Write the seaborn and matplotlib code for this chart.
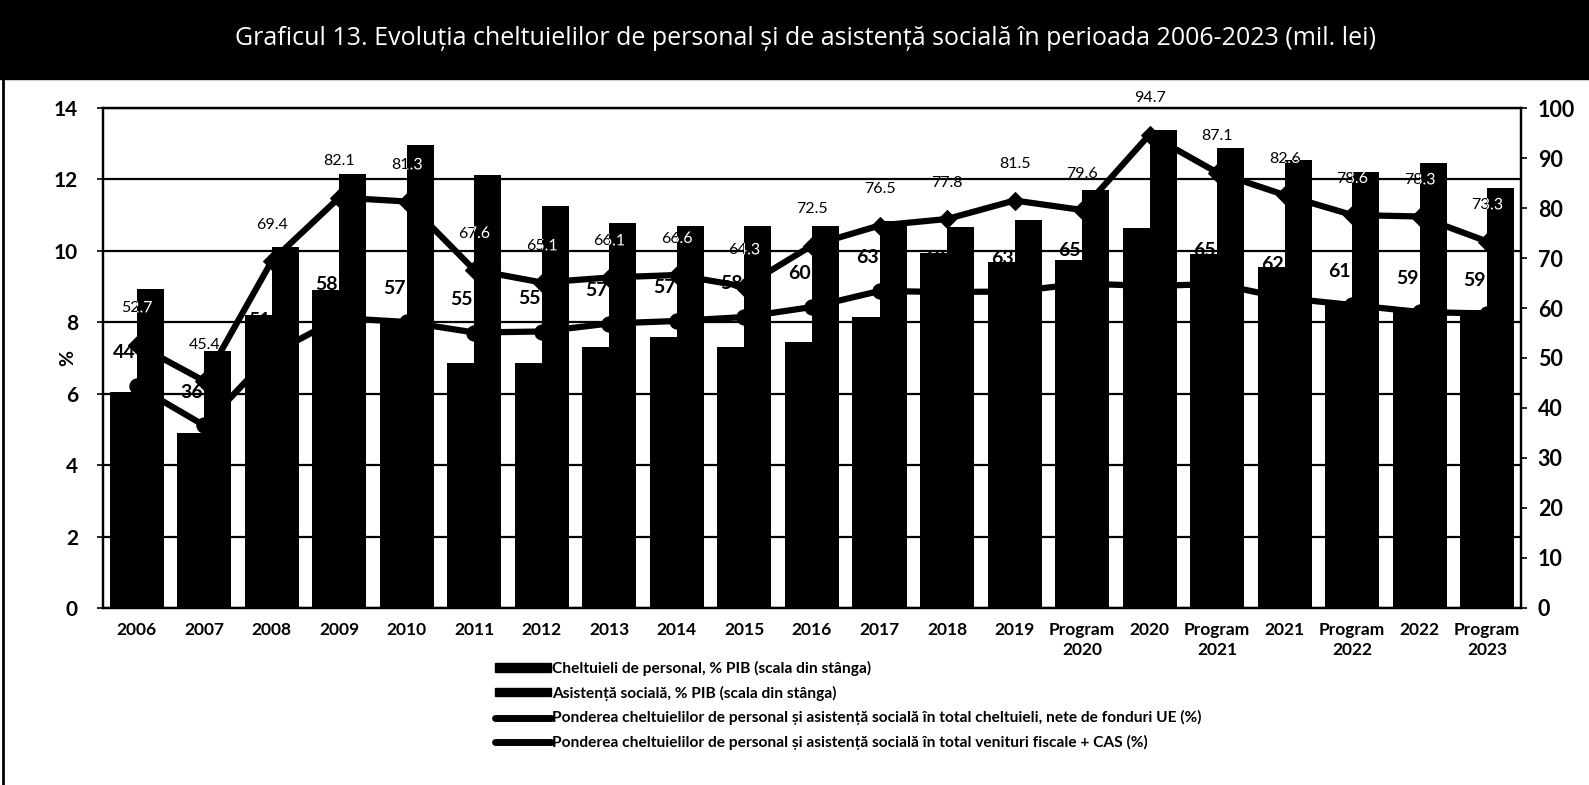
import numpy as np
import pandas as pd
import matplotlib
matplotlib.use("Agg")
import matplotlib.pyplot as plt
import matplotlib.patheffects as pe
import seaborn as sns
from matplotlib.path import Path
from matplotlib.transforms import Affine2D
from matplotlib.lines import Line2D
from matplotlib.patches import Rectangle

# ---------------- data ----------------
categories = ["2006", "2007", "2008", "2009", "2010", "2011", "2012", "2013", "2014",
              "2015", "2016", "2017", "2018", "2019", "Program\n2020", "2020",
              "Program\n2021", "2021", "Program\n2022", "2022", "Program\n2023"]

cheltuieli_personal_pib = [6.05, 4.9, 8.2, 8.9, 8.0, 6.85, 6.85, 7.3, 7.6, 7.3, 7.45,
                           8.15, 9.95, 9.7, 9.75, 10.65, 9.9, 9.55, 8.6, 8.4, 8.35]
asistenta_sociala_pib = [8.93, 7.2, 10.1, 12.15, 12.97, 12.13, 11.26, 10.78, 10.7, 10.7, 10.7,
                         10.85, 10.67, 10.87, 11.7, 13.39, 12.88, 12.55, 12.2, 12.46, 11.76]
pondere_total_cheltuieli = [44.4, 36.5, 50.8, 58.0, 57.2, 55.1, 55.3, 56.9, 57.4, 58.2, 60.2,
                            63.4, 63.2, 63.3, 64.9, 64.4, 64.8, 62.0, 60.6, 59.2, 58.9]
pondere_venituri_fiscale = [52.7, 45.4, 69.4, 82.1, 81.3, 67.6, 65.1, 66.1, 66.6, 64.3, 72.5,
                            76.5, 77.8, 81.5, 79.6, 94.7, 87.1, 82.6, 78.6, 78.3, 73.3]

title = ("Graficul 13. Evoluția cheltuielilor de personal și de asistență socială "
         "în perioada 2006-2023 (mil. lei)")
legend_labels = [
    "Cheltuieli de personal, % PIB (scala din stânga)",
    "Asistență socială, % PIB (scala din stânga)",
    "Ponderea cheltuielilor de personal și asistență socială în total cheltuieli, nete de fonduri UE (%)",
    "Ponderea cheltuielilor de personal și asistență socială în total venituri fiscale + CAS (%)",
]

# ---------------- style ----------------
sns.set_theme(style="white")
plt.rcParams['font.family'] = ['Lato', 'DejaVu Sans']
plt.rcParams['text.color'] = 'black'

n = len(categories)
fig = plt.figure(figsize=(15.89, 7.85), dpi=100)
ax = fig.add_axes([0.0648, 0.2255, 0.8924, 0.6369])

df = pd.DataFrame({
    "cat": categories * 2,
    "val": cheltuieli_personal_pib + asistenta_sociala_pib,
    "serie": [legend_labels[0]] * n + [legend_labels[1]] * n,
})
sns.barplot(data=df, x="cat", y="val", hue="serie", palette=["black", "black"],
            saturation=1, width=0.8, gap=0, ax=ax, legend=False, linewidth=0,
            errorbar=None)

ax.set_xlim(-0.5, n - 0.5)
ax.set_ylim(0, 14)
ax.set_yticks(range(0, 15, 2))
ax.grid(axis='y', color='black', lw=1.6)
ax.grid(axis='x', visible=False)
ax.set_axisbelow(True)
ax.set_xlabel("")
ax.set_ylabel("%", fontsize=14, fontweight='bold', color='black')
ax.yaxis.set_label_coords(-0.019, 0.5)
for s in ax.spines.values():
    s.set_color('black')
    s.set_linewidth(1.6)
ax.tick_params(axis='y', labelsize=15, length=4, width=1.2, color='black', pad=14,
               labelcolor='black')
ax.tick_params(axis='x', labelsize=12.5, length=0, pad=10, labelcolor='black')
for t in ax.get_yticklabels():
    t.set_fontweight('bold')
for t in ax.get_xticklabels():
    t.set_fontweight('bold')
    t.set_multialignment('center')
    t.set_linespacing(1.3)
ax.set_xticks(np.arange(n + 1) - 0.5, minor=True)
ax.tick_params(axis='x', which='minor', length=4, width=1.2, color='black', direction='out')

ax2 = ax.twinx()
xs = np.arange(n)
sns.lineplot(x=xs, y=pondere_total_cheltuieli, ax=ax2, color='black', lw=4.5,
             marker='o', markersize=11, markeredgecolor='black', sort=False, legend=False)
sns.lineplot(x=xs, y=pondere_venituri_fiscale, ax=ax2, color='black', lw=4.5,
             marker='D', markersize=9, markeredgecolor='black', sort=False, legend=False)
ax2.set_ylim(0, 100)
ax2.set_yticks(range(0, 101, 10))
ax2.tick_params(axis='y', labelsize=15.5, length=4, width=1.2, color='black', pad=8,
                labelcolor='black')
for t in ax2.get_yticklabels():
    t.set_fontweight('bold')
for s in ax2.spines.values():
    s.set_color('black')
    s.set_linewidth(1.6)

# clip path = union of bars (for white text where labels overlap bars)
rects = []
for p in ax.patches:
    rects.append(Path.unit_rectangle().transformed(
        Affine2D().scale(p.get_width(), p.get_height()).translate(p.get_x(), p.get_y())))
bar_path = Path.make_compound_path(*rects)

for i, v in enumerate(pondere_venituri_fiscale):
    for col in ('black', 'white'):
        a = ax2.annotate(f"{v:.1f}", (i, v), xytext=(0, 26), textcoords='offset points',
                         ha='center', va='center', fontsize=11.5, color=col,
                         annotation_clip=False, zorder=5)
        if col == 'white':
            a.set_path_effects([pe.Normal()])
            a.set_clip_on(True)
            a.set_clip_path(bar_path, ax.transData)

for i, v in enumerate(pondere_total_cheltuieli):
    ax2.annotate(f"{v:.0f}", (i, v), xytext=(-9, 24), textcoords='offset points',
                 ha='center', va='center', fontsize=14, fontweight='bold',
                 color='black', annotation_clip=False, zorder=1)

# legend
handles = [Rectangle((0, 0), 1, 1, color='black'), Rectangle((0, 0), 1, 1, color='black'),
           Line2D([], [], color='black', lw=5), Line2D([], [], color='black', lw=5)]
fig.legend(handles, legend_labels, loc='upper left', bbox_to_anchor=(0.3065, 0.168),
           frameon=False, handlelength=3.6, handleheight=0.45, handletextpad=0.1,
           labelspacing=0.62, borderpad=0, prop={'size': 11.2, 'weight': 'bold'},
           labelcolor='black')

# title banner
fig.patches.append(Rectangle((0, 0.9), 1, 0.1, transform=fig.transFigure,
                             color='black', zorder=0))
fig.text(0.507, 0.951, title, color='white', fontsize=18, ha='center', va='center',
         family=['Open Sans', 'DejaVu Sans'])
fig.add_artist(Line2D([0.002, 0.002], [0.0, 0.9], color='black', lw=2,
                      transform=fig.transFigure))

fig.savefig("out.png", dpi=100)
